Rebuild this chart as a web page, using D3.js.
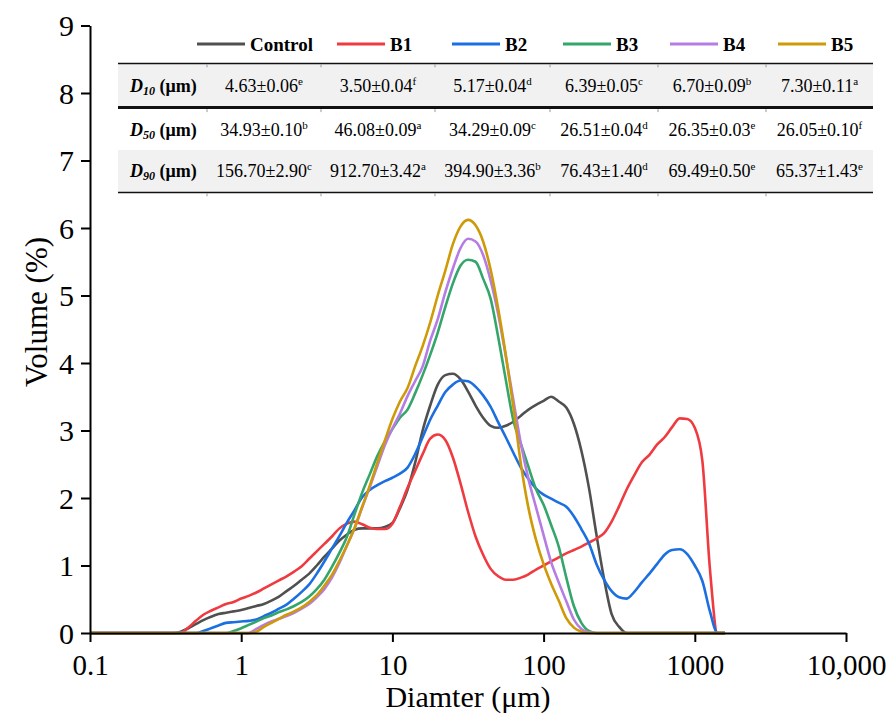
<!DOCTYPE html>
<html>
<head>
<meta charset="utf-8">
<script src="https://cdn.jsdelivr.net/npm/d3@7"></script>
<style>
    body { margin: 0; background: #fff; }
    svg { display: block; }
    text { font-family: "Liberation Serif", "Times New Roman", serif; fill: #000; }
</style>
</head>
<body>
<svg id="chart" width="892" height="714"></svg>
<script>

//粒径 (μm)
let diameters = [0.1,
    0.355, 0.398, 0.447, 0.501, 0.562, 0.631, 0.708, 0.794, 0.891,
    1, 1.122, 1.259, 1.413, 1.585, 1.778, 1.995, 2.239, 2.512, 2.818,
    3.162, 3.548, 3.981, 4.467, 5.012, 5.623, 6.310, 7.079, 7.943, 8.913,
    10, 11.22, 12.59, 14.13, 15.85, 17.78, 19.95, 22.39, 25.12, 28.18,
    31.62, 35.48, 39.81, 44.67, 50.12, 56.23, 63.10, 70.79, 79.43, 89.13,
    100, 112.2, 125.9, 141.3, 158.5, 177.8, 199.5, 223.9, 251.2, 281.8,
    316.2, 354.8, 398.1, 446.7, 501.2, 562.3, 631.0, 707.9, 794.3, 891.3,
    1000, 1122, 1259, 1413, 1585]

//体积 (%)
let control = [0,
    0, 0.02, 0.07, 0.13, 0.19, 0.24, 0.28, 0.30, 0.32,
    0.34, 0.37, 0.40, 0.43, 0.48, 0.54, 0.62, 0.70, 0.79, 0.88,
    1.00, 1.13, 1.25, 1.37, 1.46, 1.53, 1.55, 1.55, 1.55, 1.57,
    1.63, 1.85, 2.12, 2.52, 3.00, 3.37, 3.68, 3.82, 3.84, 3.76,
    3.58, 3.37, 3.19, 3.07, 3.04, 3.07, 3.13, 3.22, 3.31, 3.38,
    3.44, 3.50, 3.43, 3.34, 3.10, 2.70, 2.15, 1.45, 0.80, 0.28,
    0.09, 0, 0, 0, 0, 0, 0, 0, 0, 0,
    0, 0, 0, 0, 0]
let b1 = [0,
    0, 0, 0.08, 0.18, 0.27, 0.33, 0.38, 0.43, 0.46,
    0.51, 0.55, 0.60, 0.66, 0.72, 0.78, 0.84, 0.91, 0.99, 1.10,
    1.21, 1.32, 1.43, 1.55, 1.62, 1.65, 1.61, 1.56, 1.54, 1.54,
    1.62, 1.87, 2.15, 2.40, 2.65, 2.88, 2.94, 2.86, 2.60, 2.22,
    1.80, 1.43, 1.16, 0.95, 0.84, 0.79, 0.79, 0.82, 0.87, 0.94,
    1.00, 1.06, 1.12, 1.18, 1.23, 1.28, 1.34, 1.40, 1.48, 1.65,
    1.88, 2.13, 2.34, 2.53, 2.64, 2.79, 2.90, 3.05, 3.18, 3.17,
    3.04, 2.55, 0.95, 0, 0]
let b2 = [0,
    0, 0, 0, 0, 0.03, 0.07, 0.11, 0.15, 0.16,
    0.17, 0.18, 0.20, 0.25, 0.30, 0.36, 0.42, 0.51, 0.61, 0.72,
    0.88, 1.06, 1.25, 1.44, 1.64, 1.82, 2.01, 2.12, 2.19, 2.25,
    2.30, 2.36, 2.45, 2.65, 2.90, 3.16, 3.37, 3.57, 3.68, 3.74,
    3.73, 3.65, 3.52, 3.35, 3.12, 2.90, 2.67, 2.45, 2.28, 2.14,
    2.05, 1.99, 1.93, 1.87, 1.73, 1.54, 1.33, 1.02, 0.79, 0.62,
    0.53, 0.51, 0.61, 0.75, 0.88, 1.02, 1.16, 1.23, 1.24, 1.17,
    1.00, 0.77, 0.32, 0, 0]
let b3 = [0,
    0, 0, 0, 0, 0, 0, 0, 0, 0.03,
    0.07, 0.12, 0.17, 0.22, 0.26, 0.31, 0.35, 0.40, 0.46, 0.54,
    0.65, 0.79, 0.98, 1.19, 1.43, 1.76, 2.08, 2.35, 2.62, 2.84,
    3.02, 3.19, 3.31, 3.55, 3.82, 4.12, 4.45, 4.83, 5.18, 5.44,
    5.53, 5.50, 5.25, 4.95, 4.38, 3.75, 3.15, 2.80, 2.46, 2.13,
    1.90, 1.60, 1.28, 0.82, 0.40, 0.15, 0.03, 0, 0, 0,
    0, 0, 0, 0, 0, 0, 0, 0, 0, 0,
    0, 0, 0, 0, 0]
let b4 = [0,
    0, 0, 0, 0, 0, 0, 0, 0, 0,
    0, 0, 0.06, 0.12, 0.17, 0.21, 0.25, 0.30, 0.36, 0.43,
    0.53, 0.65, 0.82, 1.04, 1.30, 1.55, 1.86, 2.16, 2.47, 2.78,
    3.03, 3.25, 3.51, 3.73, 3.95, 4.33, 4.65, 5.05, 5.40, 5.70,
    5.84, 5.80, 5.60, 5.22, 4.72, 4.10, 3.45, 2.80, 2.28, 1.86,
    1.45, 1.05, 0.75, 0.47, 0.20, 0.06, 0.01, 0, 0, 0,
    0, 0, 0, 0, 0, 0, 0, 0, 0, 0,
    0, 0, 0, 0, 0]
let b5 = [0,
    0, 0, 0, 0, 0, 0, 0, 0, 0,
    0, 0, 0.02, 0.09, 0.15, 0.21, 0.27, 0.32, 0.38, 0.46,
    0.56, 0.70, 0.86, 1.07, 1.30, 1.56, 1.87, 2.18, 2.52, 2.85,
    3.17, 3.43, 3.63, 3.95, 4.25, 4.60, 5.00, 5.37, 5.76, 6.02,
    6.12, 6.04, 5.80, 5.38, 4.80, 4.12, 3.35, 2.50, 1.85, 1.38,
    1.02, 0.73, 0.48, 0.22, 0.08, 0.02, 0, 0, 0, 0,
    0, 0, 0, 0, 0, 0, 0, 0, 0, 0,
    0, 0, 0, 0, 0]

let seriesNames = ['Control', 'B1', 'B2', 'B3', 'B4', 'B5']
let seriesValues = [control, b1, b2, b3, b4, b5]
let seriesColors = ['#505050', '#ef3b40', '#1b6fe0', '#35a66b', '#b57de3', '#cf9a08']

//表格数据
let rowLabels = ['10', '50', '90']
let d10 = ['4.63±0.06', '3.50±0.04', '5.17±0.04', '6.39±0.05', '6.70±0.09', '7.30±0.11']
let d10Sig = ['e', 'f', 'd', 'c', 'b', 'a']
let d50 = ['34.93±0.10', '46.08±0.09', '34.29±0.09', '26.51±0.04', '26.35±0.03', '26.05±0.10']
let d50Sig = ['b', 'a', 'c', 'd', 'e', 'f']
let d90 = ['156.70±2.90', '912.70±3.42', '394.90±3.36', '76.43±1.40', '69.49±0.50', '65.37±1.43']
let d90Sig = ['c', 'a', 'b', 'd', 'e', 'e']

//坐标轴刻度
let xTicks = [0.1, 1, 10, 100, 1000, 10000]
let xTickLabels = ['0.1', '1', '10', '100', '1000', '10,000']
let yTicks = [0, 1, 2, 3, 4, 5, 6, 7, 8, 9]

let svg = d3.select('#chart')

let x = d3.scaleLog().domain([0.1, 10000]).range([90, 846])
let y = d3.scaleLinear().domain([0, 9]).range([633, 25.5])

//次刻度
let xMinor = []
xTicks.slice(0, -1).forEach(function (d) {
    for (let m = 2; m < 10; m++) xMinor.push(d * m)
})
let yMinor = yTicks.slice(0, -1).map(function (d) { return d + 0.5 })

//曲线
let lineGenerator = d3.line()
    .x(function (d) { return x(d[0]) })
    .y(function (d) { return y(d[1]) })
    .curve(d3.curveMonotoneX)

seriesValues.forEach(function (vals, i) {
    let pts = diameters.map(function (d, j) { return [d, vals[j]] })
    svg.append('path')
        .attr('d', lineGenerator(pts))
        .style('fill', 'none')
        .style('stroke', seriesColors[i])
        .attr('stroke-width', 2.6)
        .attr('stroke-linejoin', 'round')
})

//x轴
let gx = svg.append('g').attr('transform', 'translate(0,633)')
gx.call(d3.axisBottom(x).tickValues(xMinor).tickFormat('').tickSize(5).tickSizeOuter(0))
gx.call(d3.axisBottom(x).tickValues(xTicks).tickFormat(function (d, i) { return xTickLabels[i] }).tickSize(9).tickSizeOuter(0))
gx.selectAll('text').attr('y', 42).attr('dy', 0).style('font-size', '29px')

//y轴
let gy = svg.append('g').attr('transform', 'translate(90,0)')
gy.call(d3.axisLeft(y).tickValues(yMinor).tickFormat('').tickSize(5).tickSizeOuter(0))
gy.call(d3.axisLeft(y).tickValues(yTicks).tickSize(9).tickSizeOuter(0))
gy.selectAll('text').attr('x', -16).attr('dy', '0.34em').style('font-size', '30px')

svg.selectAll('.domain').attr('stroke', '#000').attr('stroke-width', 2)
svg.selectAll('.tick line').attr('stroke', '#000').attr('stroke-width', 2)

//坐标轴标题
svg.append('text')
    .attr('x', 468).attr('y', 707)
    .attr('text-anchor', 'middle')
    .style('font-size', '30px')
    .text('Diamter (μm)')

svg.append('text')
    .attr('transform', 'translate(47,312) rotate(-90)')
    .attr('text-anchor', 'middle')
    .style('font-size', '31px')
    .text('Volume (%)')

//表格
let colEdges = [118, 207, 321, 435, 550, 658, 766, 873]
let rowTops = [64, 108, 150, 192]
let rowFill = ['#f1f1f1', '#ffffff', '#f1f1f1']
let tableVals = [d10, d50, d90]
let tableSig = [d10Sig, d50Sig, d90Sig]
let table = svg.append('g')

rowFill.forEach(function (c, r) {
    table.append('rect')
        .attr('x', colEdges[0]).attr('y', rowTops[r])
        .attr('width', colEdges[colEdges.length - 1] - colEdges[0])
        .attr('height', rowTops[r + 1] - rowTops[r])
        .attr('fill', c)
})

//横线
let rules = [[63.5, 1.6], [107.5, 3.2], [192.5, 1.6]]
rules.forEach(function (r) {
    table.append('line')
        .attr('x1', colEdges[0]).attr('x2', colEdges[colEdges.length - 1])
        .attr('y1', r[0]).attr('y2', r[0])
        .attr('stroke', '#111').attr('stroke-width', r[1])
})
//分隔小刻度
rules.forEach(function (r) {
    colEdges.slice(1, -1).forEach(function (cx) {
        table.append('line')
            .attr('x1', cx).attr('x2', cx)
            .attr('y1', r[0] + r[1] / 2).attr('y2', r[0] + r[1] / 2 + 3)
            .attr('stroke', '#999').attr('stroke-width', 1)
    })
})

let rowBase = [92, 136, 177]
rowLabels.forEach(function (lab, r) {
    let t = table.append('text')
        .attr('x', 130).attr('y', rowBase[r])
        .style('font-size', '18px')
        .style('font-weight', 'bold')
    t.append('tspan').style('font-style', 'italic').text('D')
    t.append('tspan').style('font-style', 'italic').style('font-size', '12px').attr('dy', 3).text(lab)
    t.append('tspan').attr('dy', -3).text(' (μm)')

    tableVals[r].forEach(function (v, c) {
        let cx = (colEdges[c + 1] + colEdges[c + 2]) / 2
        let vt = table.append('text')
            .attr('x', cx).attr('y', rowBase[r])
            .attr('text-anchor', 'middle')
            .style('font-size', '18px')
        vt.append('tspan').text(v)
        vt.append('tspan').attr('dy', -7).style('font-size', '11px').text(tableSig[r][c])
    })
})

//图例
let legendX = [197, 337, 452, 563, 670, 778]
seriesNames.forEach(function (name, i) {
    svg.append('line')
        .attr('x1', legendX[i]).attr('x2', legendX[i] + 48)
        .attr('y1', 44).attr('y2', 44)
        .attr('stroke', seriesColors[i]).attr('stroke-width', 3)
    svg.append('text')
        .attr('x', legendX[i] + 53).attr('y', 51)
        .style('font-size', '19px')
        .style('font-weight', 'bold')
        .text(name)
})
</script>
</body>
</html>
